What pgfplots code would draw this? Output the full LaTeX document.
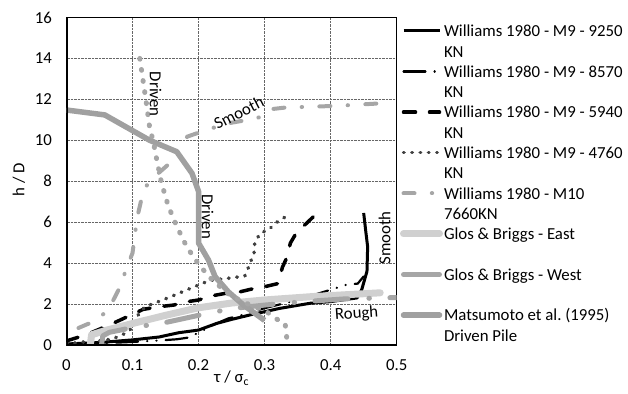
\documentclass[border=0pt]{standalone}
\usepackage{fontspec}
\setmainfont{Carlito}
\usepackage{pgfplots}
\pgfplotsset{compat=1.18}
\definecolor{dg}{HTML}{404040}
\definecolor{mg}{HTML}{A6A6A6}
\definecolor{mg2}{HTML}{A0A0A0}
\definecolor{lg}{HTML}{D0D0D0}
\newcommand{\fs}{\fontsize{16.8}{20.3}\selectfont}
\begin{document}
\begin{tikzpicture}
\useasboundingbox (0,0) rectangle (628pt,393pt);
\begin{axis}[
  at={(66.5pt,48pt)}, anchor=south west,
  width=330.2pt, height=327.5pt, scale only axis,
  xmin=0, xmax=0.5, ymin=0, ymax=16,
  xtick={0,0.1,0.2,0.3,0.4,0.5},
  xticklabels={0,0.1,0.2,0.3,0.4,0.5},
  ytick={0,2,4,6,8,10,12,14,16},
  major tick length=0pt,
  grid=major,
  major grid style={line width=0.7pt, dash pattern=on 0.7pt off 0.7pt, color=black!60},
  axis line style={line width=1pt, black},
  tick label style={font=\fs},
  /pgf/number format/assume math mode=true,
  xticklabel style={yshift=-11pt},
  yticklabel style={xshift=-11pt},
  xlabel={τ / σ\textsubscript{c}},
  ylabel={h / D},
  label style={font=\fs},
  xlabel style={at={(axis description cs:0.5,-0.101)}, anchor=center},
  ylabel style={at={(axis description cs:-0.144,0.504)}, anchor=center},
  legend image code/.code={\draw[#1] (0pt,4.4pt) -- (36pt,4.4pt);},
  legend cell align=left,
  legend style={at={(axis description cs:1.0094,0.977)}, anchor=north west,
    draw=none, fill=none, column sep=1pt, row sep=0pt, inner sep=0pt,
    nodes={font=\fs, inner sep=0pt, text height=11.5pt, text depth=8.8pt, anchor=west}},
]
% Williams M9 9250 KN
\addplot[forget plot, black, line width=3pt, line join=round] coordinates {
(0,0.05) (0.05,0.12) (0.1,0.25) (0.14,0.39) (0.17,0.6) (0.2,0.73) (0.227,1.05)
(0.25,1.25) (0.278,1.47) (0.323,1.79) (0.369,2.04) (0.4,2.12) (0.44,2.3)
(0.447,2.7) (0.455,3.6) (0.456,4.8) (0.453,5.6) (0.45,6.45)};
% Williams M9 8570 KN
\addplot[forget plot, black, line width=2.2pt, line cap=round,
  dash pattern=on 22pt off 9pt on 0.3pt off 9pt on 0.3pt off 9pt] coordinates {
(0,0.05) (0.05,0.08) (0.1,0.15) (0.14,0.22) (0.167,0.28) (0.184,0.36)
(0.2,0.6) (0.22,0.95) (0.245,1.3) (0.262,1.43) (0.3,1.8) (0.35,2.2) (0.38,2.5)
(0.407,2.77) (0.422,2.93) (0.441,3.0) (0.45,3.35)};
% Williams M9 5940 KN
\addplot[forget plot, black, line width=3.5pt, line cap=round,
  dash pattern=on 12pt off 14pt] coordinates {
(0,0.2) (0.03,0.5) (0.065,0.98) (0.08,1.2) (0.1,1.5) (0.116,1.74) (0.14,1.87)
(0.162,1.95) (0.18,2.1) (0.2,2.2) (0.22,2.4) (0.245,2.55) (0.263,2.6) (0.289,2.8)
(0.303,2.87) (0.32,3.0) (0.327,3.8) (0.334,4.3) (0.339,4.98) (0.349,5.53)
(0.364,5.96) (0.378,6.4)};
% Williams M9 4760 KN
\addplot[forget plot, dg, line width=3.6pt, line cap=round,
  dash pattern=on 0.6pt off 7.7pt] coordinates {
(0,0.05) (0.016,0.11) (0.026,0.15) (0.05,0.2) (0.07,0.3) (0.087,0.54) (0.096,0.73)
(0.11,1.55) (0.119,1.87) (0.133,2.04) (0.158,2.36) (0.182,2.69) (0.206,3.01)
(0.216,3.15) (0.245,3.26) (0.27,3.37) (0.275,3.75) (0.284,4.5) (0.285,4.97)
(0.293,5.46) (0.306,5.62) (0.316,5.95) (0.336,6.35)};
% Williams M10 7660KN
\addplot[forget plot, mg, line width=4pt, line cap=round,
  dash pattern=on 11pt off 17.3pt on 0.4pt off 17.3pt] coordinates {
(0.018,0.83) (0.039,1.12) (0.058,1.56) (0.071,2.2) (0.081,2.83) (0.089,3.58)
(0.1,4.5) (0.105,5.75) (0.109,6.5) (0.114,7.2) (0.123,7.9) (0.139,8.39)
(0.157,8.9) (0.169,9.64) (0.183,10.18) (0.204,10.42) (0.227,10.66) (0.25,10.86)
(0.273,10.99) (0.296,11.15) (0.312,11.53) (0.334,11.61) (0.36,11.63)
(0.406,11.68) (0.43,11.72) (0.478,11.81)};
% Glos & Briggs East
\addplot[forget plot, lg, line width=7pt, line cap=round, line join=round] coordinates {
(0.036,0) (0.038,0.5) (0.06,0.72) (0.1,1.05) (0.15,1.45) (0.2,1.82) (0.25,2.05)
(0.3,2.2) (0.37,2.36) (0.475,2.55)};
% Glos & Briggs West
\addplot[forget plot, mg, line width=5pt, line cap=round, line join=round,
  dash pattern=on 33pt off 21pt on 0.5pt off 20.5pt] coordinates {
(0.053,0) (0.055,0.45) (0.065,0.62) (0.1,0.85) (0.15,1.1) (0.2,1.45) (0.25,1.78)
(0.3,1.95) (0.36,2.12) (0.42,2.25) (0.5,2.32)};
% Matsumoto et al. (1995) Driven Pile
\addplot[forget plot, mg2, line width=5.5pt, line join=round] coordinates {
(0,11.48) (0.058,11.24) (0.126,10.0) (0.167,9.44) (0.19,8.39) (0.2,7.5)
(0.2,4.98) (0.215,4.15) (0.225,3.34) (0.245,2.6) (0.268,1.95) (0.3,1.2)};
% Driven (dotted)
\addplot[forget plot, mg, line width=5pt, line cap=round,
  dash pattern=on 0.8pt off 10.4pt] coordinates {
(0.111,14) (0.116,12.9) (0.121,11.8) (0.126,10.6) (0.131,10) (0.137,9)
(0.144,7.9) (0.154,6.8) (0.167,5.8) (0.182,4.8) (0.201,3.9) (0.22,3.2)
(0.247,2.44) (0.275,2.0) (0.303,1.63) (0.316,1.3) (0.331,1.06) (0.333,0.57) (0.334,0)};

\addlegendimage{black, line width=3pt}
\addlegendentry{Williams 1980 - M9 - 9250}
\addlegendimage{empty legend}
\addlegendentry{KN}
\addlegendimage{black, line width=2.2pt, line cap=round, dash pattern=on 22pt off 9pt on 0.3pt off 9pt}
\addlegendentry{Williams 1980 - M9 - 8570}
\addlegendimage{empty legend}
\addlegendentry{KN}
\addlegendimage{black, line width=3.5pt, line cap=round, dash pattern=on 12pt off 14pt}
\addlegendentry{Williams 1980 - M9 - 5940}
\addlegendimage{empty legend}
\addlegendentry{KN}
\addlegendimage{dg, line width=3.4pt, line cap=round, dash pattern=on 0.6pt off 7.7pt}
\addlegendentry{Williams 1980 - M9 - 4760}
\addlegendimage{empty legend}
\addlegendentry{KN}
\addlegendimage{mg, line width=4pt, line cap=round, dash pattern=on 11pt off 17.3pt on 0.4pt off 17.3pt}
\addlegendentry{Williams 1980 - M10}
\addlegendimage{empty legend}
\addlegendentry{7660KN}
\addlegendimage{lg, line width=7pt, line cap=round}
\addlegendentry{Glos \& Briggs - East}
\addlegendimage{empty legend}
\addlegendentry{}
\addlegendimage{mg, line width=5pt, line cap=round}
\addlegendentry{Glos \& Briggs - West}
\addlegendimage{empty legend}
\addlegendentry{}
\addlegendimage{mg2, line width=5.5pt, line cap=round}
\addlegendentry{Matsumoto et al.\ (1995)}
\addlegendimage{empty legend}
\addlegendentry{Driven Pile}

\node[font=\fs, inner sep=0pt, rotate=-90] at (axis cs:0.135,12.25) {Driven};
\node[font=\fs, inner sep=0pt, rotate=-90] at (axis cs:0.2135,6.27) {Driven};
\node[font=\fs, inner sep=0pt, rotate=27] at (axis cs:0.261,11.36) {Smooth};
\node[font=\fs, inner sep=0pt, rotate=90] at (axis cs:0.4815,5.23) {Smooth};
\node[font=\fs, inner sep=0pt, rotate=4] at (axis cs:0.4394,1.51) {Rough};
\draw[line width=2.5pt, black] (axis cs:0,16) -- (axis cs:0,0) -- (axis cs:0.5,0);
\end{axis}
\end{tikzpicture}
\end{document}
